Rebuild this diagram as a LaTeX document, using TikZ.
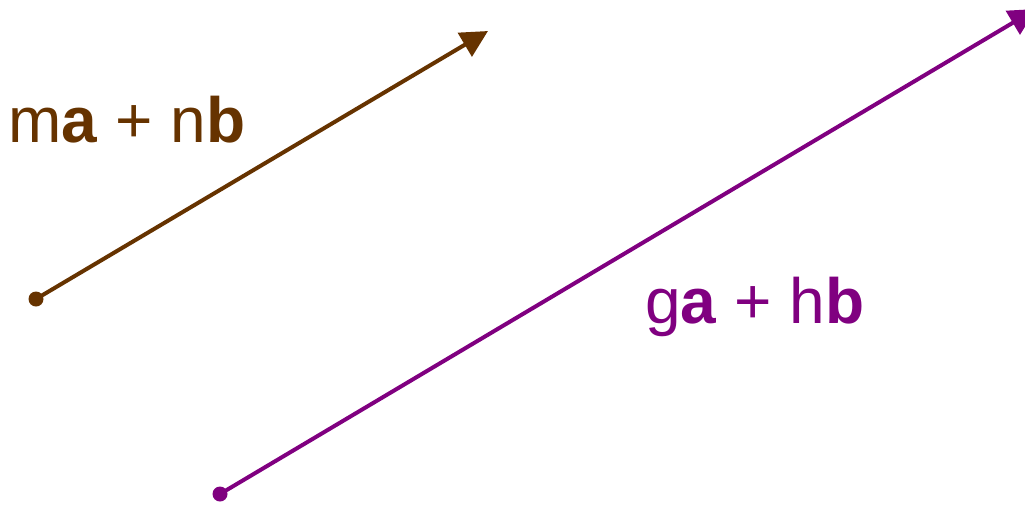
\documentclass[tikz,border=0pt]{standalone}
\usepackage{fontspec}
\setmainfont{Liberation Sans}
\usetikzlibrary{arrows.meta}
\definecolor{vbrown}{HTML}{663300}
\definecolor{vpurple}{HTML}{800080}
\tikzset{
  vec/.style={line width=4pt, -{Triangle[length=27pt,width=27pt]}},
  dot/.style={circle, fill, inner sep=0pt, minimum size=15pt},
  lab/.style={inner sep=0pt, anchor=base west, font=\fontsize{64}{70}\selectfont}
}
\begin{document}
\begin{tikzpicture}[x=1pt,y=-1pt]
\useasboundingbox (0,0) rectangle (1025,504);
\clip (0,0) rectangle (1025,504);
\node[dot, vbrown] (s1) at (36,299) {};
\coordinate (e1) at (488,31);
\draw[vec, vbrown] (s1.center) -- (e1);
\node[dot, vpurple] (s2) at (220,494) {};
\coordinate (e2) at (1036,9);
\draw[vec, vpurple] (s2.center) -- (e2);
\node[lab, text=vbrown] (l1) at (8,142) {m\textbf{a} + n\textbf{b}};
\node[lab, text=vpurple] (l2) at (645,323) {g\textbf{a} + h\textbf{b}};
\end{tikzpicture}
\end{document}
